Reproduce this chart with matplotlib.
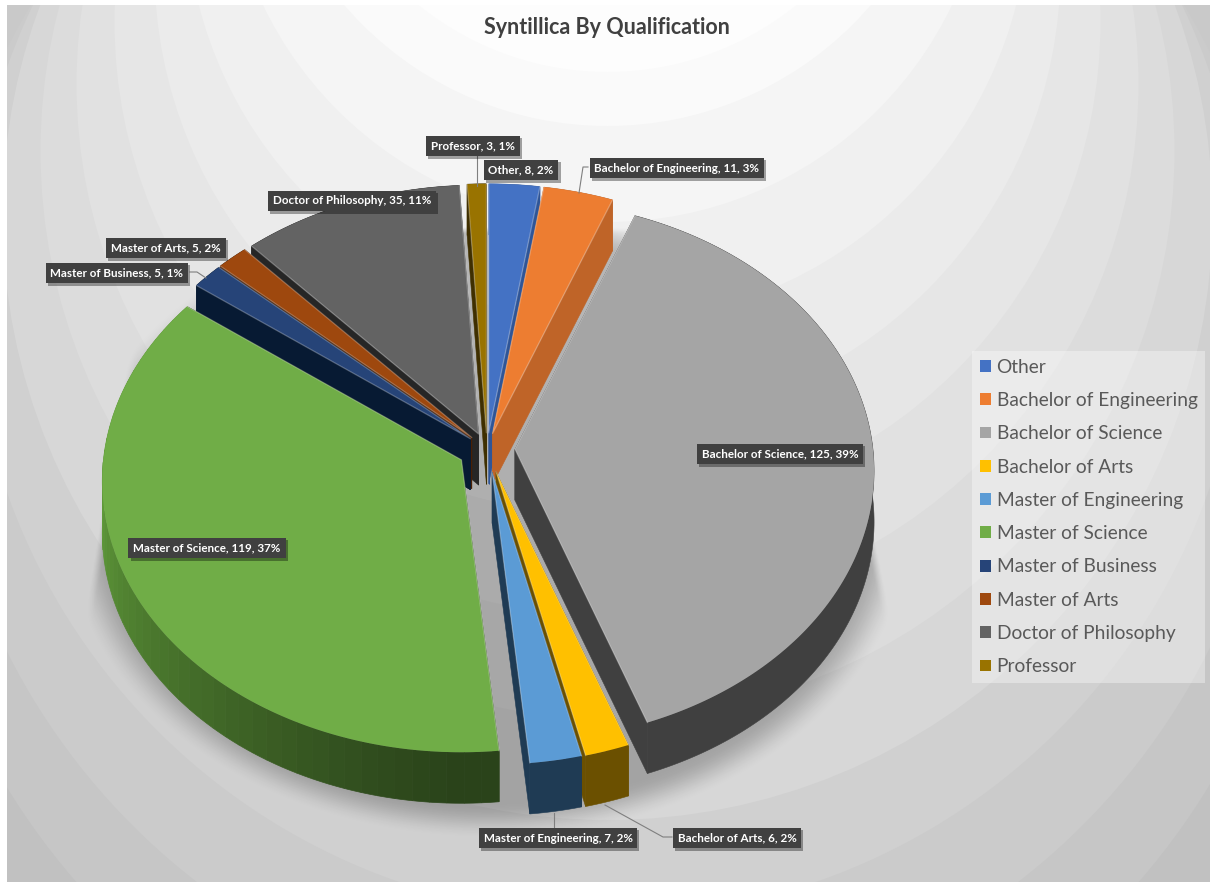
import numpy as np
import matplotlib
matplotlib.use("Agg")
import matplotlib.pyplot as plt
from matplotlib.patches import Polygon, Circle, Rectangle, Patch
import matplotlib.patheffects as pe

# ---- data ----
categories = ["Other", "Bachelor of Engineering", "Bachelor of Science", "Bachelor of Arts",
              "Master of Engineering", "Master of Science", "Master of Business",
              "Master of Arts", "Doctor of Philosophy", "Professor"]
values = [8, 11, 125, 6, 7, 119, 5, 5, 35, 3]
percents = [2, 3, 39, 2, 2, 37, 1, 2, 11, 1]

# ---- style ----
top_colors = ["#4472C4", "#ED7D31", "#A5A5A5", "#FFC000", "#5B9BD5",
              "#70AD47", "#264478", "#9E480E", "#636363", "#997300"]
wall_colors = ["#2F5597", "#BF6428", "#404040", "#6B5000", "#1F3B54",
               "#2A431A", "#071A33", "#4A1F04", "#262626", "#3F2F00"]
explode = [0.06, 0.06, 0.078, 0.088, 0.087, 0.082, 0.06, 0.06, 0.06, 0.06]
draw_order = [9, 0, 1, 8, 7, 6, 2, 5, 3, 4]
label_pos = [(521, 170), (677, 168), (780, 454), (737, 838), (558, 838),
             (207, 548), (117, 273), (166, 248), (352, 201), (473, 146)]
leaders = {9: [(477, 155), (477, 186)],
           1: [(588, 167), (583, 167), (579, 193)],
           6: [(190, 272), (197, 272), (206, 278)],
           4: [(554, 813), (554, 829)],
           3: [(605, 805), (663, 837), (672, 837)]}

CX, CY, RX, RY, PERSP, DEPTH = 487, 449, 358, 269, 0.08, 51


def rim(theta):
    """theta in radians, clockwise from the top; offset of the pie rim from the slice tip."""
    d = np.cos(theta)
    s = 1.0 / (1.0 + PERSP * d)
    return RX * np.sin(theta) * s, -RY * d * s


fig = plt.figure(figsize=(12.10, 8.82), dpi=100, facecolor="white")
ax = fig.add_axes([0, 0, 1, 1])
ax.set_xlim(0, 1210)
ax.set_ylim(882, 0)
ax.axis("off")
plt.rcParams["font.family"] = ["Lato", "DejaVu Sans"]

# ---- background: banded radial gradient ----
frame = Rectangle((7, 5), 1203, 877, transform=ax.transData, fc="none", ec="none")
ax.add_patch(frame)
ring_r = [704, 672, 637, 605, 567, 531, 493, 453, 422, 382, 347, 300]
ring_c = [420, 350, 280, 215, 151, 84, 22, -31, -100, -160, -221, -228]
ring_g = [0xC6, 0xCB, 0xD0, 0xD7, 0xDC, 0xE1, 0xE6, 0xEB, 0xF0, 0xF5, 0xFA, 0xFD]
ax.add_patch(Rectangle((7, 5), 1203, 877, fc="#C1C1C1", ec="none", zorder=0))
ax.add_patch(Rectangle((7, 5), 1203, 300, fc="#C9C9C9", ec="none", zorder=0))
for r, c, g in zip(ring_r, ring_c, ring_g):
    p = Circle((607.5, c), r, fc=(g / 255,) * 3, ec="none", zorder=0)
    ax.add_patch(p)
    p.set_clip_path(frame)

# ---- soft shadow under the pie ----
yy, xx = np.mgrid[0:882:2, 0:1210:2]
rr = np.sqrt(((xx - 487) / 425.0) ** 2 + ((yy - 520) / 318.0) ** 2)
a = np.clip((1.0 - rr) / 0.11, 0, 1)
a = a * a * (3 - 2 * a)
xl = 105 + (yy - 490) * (80 - 105) / 150.0
xr = 865 + (yy - 500) * (895 - 865) / 140.0
a *= np.clip((xx - xl) / 8.0, 0, 1) * np.clip((xr - xx) / 8.0, 0, 1) * np.clip((yy - 226) / 6.0, 0, 1)
rgba = np.zeros(a.shape + (4,))
rgba[..., 3] = a * 0.24
ax.imshow(rgba, extent=(0, 1210, 882, 0), aspect="auto", zorder=1, interpolation="bilinear")
ax.set_xlim(0, 1210)
ax.set_ylim(882, 0)

# ---- pie built from the values ----
vals = np.array(values, dtype=float)
edges = np.concatenate([[0], np.cumsum(vals)]) / vals.sum() * 2 * np.pi
ms_near = np.array(matplotlib.colors.to_rgb("#2A431A"))
ms_far = np.array(matplotlib.colors.to_rgb("#5F9A3A"))
z = 2
for i in draw_order:
    t0, t1 = edges[i], edges[i + 1]
    mid = (t0 + t1) / 2
    tx = CX + RX * explode[i] * np.sin(mid)
    ty = CY - RY * explode[i] * np.cos(mid)
    th = np.linspace(t0, t1, max(8, int((t1 - t0) * 90)))
    dx, dy = rim(th)
    px, py = tx + dx, ty + dy
    # radial walls
    for k in (0, -1):
        ax.add_patch(Polygon([(tx, ty), (px[k], py[k]), (px[k], py[k] + DEPTH), (tx, ty + DEPTH)],
                             fc=wall_colors[i], ec=wall_colors[i], lw=0.4, zorder=z))
    # outer wall
    if i == 5:
        step = 4
        for k in range(0, len(th) - 1, step):
            e = min(k + step, len(th) - 1)
            f = np.clip((th[k] - np.pi) / (np.radians(265) - np.pi), 0, 1) ** 1.1
            col = ms_near + (ms_far - ms_near) * f
            ax.add_patch(Polygon(np.column_stack([np.r_[px[k:e + 1], px[k:e + 1][::-1]],
                                                  np.r_[py[k:e + 1], py[k:e + 1][::-1] + DEPTH]]),
                                 fc=col, ec=col, lw=0.5, zorder=z))
    else:
        ax.add_patch(Polygon(np.column_stack([np.r_[px, px[::-1]], np.r_[py, py[::-1] + DEPTH]]),
                             fc=wall_colors[i], ec=wall_colors[i], lw=0.4, zorder=z))
    # top face with a faint light line along its two straight edges
    ax.add_patch(Polygon(np.column_stack([np.r_[tx, px], np.r_[ty, py]]),
                         fc=top_colors[i], ec="none", zorder=z + 0.5))
    ax.plot([px[0], tx, px[-1]], [py[0], ty, py[-1]], color=(1, 1, 1, 0.28), lw=0.9, zorder=z + 0.6)
    z += 1

# ---- leader lines ----
for pts in leaders.values():
    xs, ys = zip(*pts)
    ax.plot(xs, ys, color="#7F7F7F", lw=0.8, zorder=30)

# ---- data labels ----
for name, v, pc, (lx, ly) in zip(categories, values, percents, label_pos):
    t = ax.text(lx, ly, f"{name}, {v}, {pc}%", ha="center", va="center", color="white",
                fontsize=8.35, fontweight="bold", zorder=40,
                bbox=dict(boxstyle="square,pad=0.42", fc="#404040", ec="none"))
    t.get_bbox_patch().set_path_effects([
        pe.SimplePatchShadow(offset=(1.5, -1.8), shadow_rgbFace="black", alpha=0.35), pe.Normal()])

# ---- title ----
ax.text(607, 27, "Syntillica By Qualification", ha="center", va="center",
        fontsize=15.5, fontweight="bold", color="#404040", zorder=40)

# ---- legend ----
handles = [Patch(fc=c, ec="none", label=n) for c, n in zip(top_colors, categories)]
leg = ax.legend(handles=handles, loc="upper left", bbox_to_anchor=(972 / 1210, 1 - 351 / 882),
                bbox_transform=ax.transAxes, borderaxespad=0, fontsize=13.8, frameon=True,
                fancybox=False, framealpha=0.35, facecolor="white", edgecolor="none",
                labelspacing=0.85, handlelength=0.57, handleheight=0.57, handletextpad=0.31,
                borderpad=0.4, labelcolor="#595959")
leg.set_zorder(40)

fig.savefig("out.png", dpi=100, facecolor="white")
